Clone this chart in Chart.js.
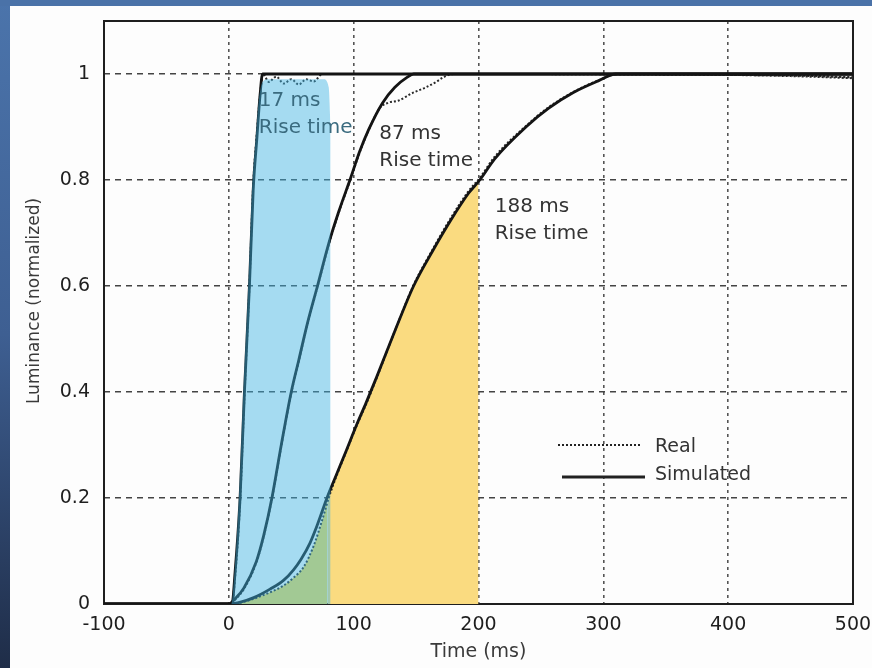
<!DOCTYPE html>
<html><head><meta charset="utf-8">
<script src="https://cdn.jsdelivr.net/npm/chart.js@4.4.1/dist/chart.umd.min.js"></script>
<style>html,body{margin:0;padding:0;background:#4a72a8;overflow:hidden}canvas{display:block}</style>
</head><body><canvas id="c" width="872" height="668"></canvas>
<script>
// ---- tick labels / titles ----
const xTicks = [-100, 0, 100, 200, 300, 400, 500];
const yTicks = [0, 0.2, 0.4, 0.6, 0.8, 1];
const xTitle = 'Time (ms)';
const yTitle = 'Luminance (normalized)';
const legendLabels = ['Real', 'Simulated'];
const riseLabels = [['17 ms', 'Rise time'], ['87 ms', 'Rise time'], ['188 ms', 'Rise time']];

// ---- curve 1 (17 ms) ----
const sim1T = [-100, 0, 2.5, 5, 9, 12.5, 16.5, 19.5, 22.5, 25, 27, 500];
const sim1V = [0, 0, 0, 0.06, 0.2, 0.4, 0.6, 0.78, 0.88, 0.96, 1, 1];
const real1T = [-100, 0, 2.5, 5, 9, 12.5, 16.5, 19.5, 22.5, 25, 27.5, 32, 38, 44, 50, 56, 62, 68, 75, 450, 500];
const real1V = [0, 0, 0, 0.05, 0.19, 0.39, 0.6, 0.79, 0.89, 0.96, 1, 0.985, 0.995, 0.982, 0.99, 0.98, 0.99, 0.986, 1, 0.998, 0.993];

// ---- curve 2 (87 ms) ----
const sim2T = [-100, 0, 5, 12, 22, 28, 34.5, 42, 50, 56, 63, 71, 80, 88, 97, 105, 112, 123, 133, 143, 148, 500];
const sim2V = [0, 0, 0.01, 0.03, 0.08, 0.13, 0.2, 0.3, 0.4, 0.46, 0.53, 0.6, 0.68, 0.74, 0.8, 0.855, 0.895, 0.945, 0.975, 0.994, 1, 1];
const real2T = [-100, 0, 5, 12, 22, 28, 34.5, 42, 50, 56, 63, 71, 80, 88, 97, 105, 112, 121, 128, 136, 147, 158, 166, 172, 180, 450, 500];
const real2V = [0, 0, 0.008, 0.028, 0.078, 0.128, 0.198, 0.298, 0.398, 0.458, 0.528, 0.598, 0.678, 0.738, 0.798, 0.853, 0.894, 0.936, 0.946, 0.95, 0.964, 0.975, 0.985, 0.994, 1, 0.997, 0.994];

// ---- curve 3 (188 ms) ----
const sim3T = [-100, 0, 10, 20, 33, 44, 52, 58, 65, 71, 78.6, 86, 93.3, 102.7, 110, 118.7, 133, 148, 163, 178, 192, 201, 213, 238, 256, 276, 296, 310, 500];
const sim3V = [0, 0, 0.004, 0.012, 0.028, 0.045, 0.065, 0.085, 0.115, 0.15, 0.2, 0.243, 0.285, 0.34, 0.38, 0.43, 0.515, 0.6, 0.665, 0.725, 0.775, 0.8, 0.84, 0.9, 0.935, 0.965, 0.987, 1, 1];
const real3T = [-100, 0, 10, 20, 33, 44, 52, 60, 68, 75, 80, 86, 93.3, 102.7, 110, 118.7, 133, 148, 163, 178, 192, 201, 213, 238, 256, 276, 296, 312, 450, 500];
const real3V = [0, 0, 0.003, 0.01, 0.022, 0.035, 0.05, 0.07, 0.11, 0.16, 0.2, 0.24, 0.283, 0.338, 0.377, 0.428, 0.515, 0.602, 0.668, 0.729, 0.779, 0.804, 0.844, 0.902, 0.937, 0.966, 0.988, 1, 0.996, 0.992];

// ---- highlighted areas ----
const blueT = [-1, 2, 4.5, 8, 11.5, 15.5, 18.5, 21.5, 24, 27, 32, 76, 80, 81.5];
const blueV = [0, 0, 0.06, 0.2, 0.4, 0.6, 0.78, 0.88, 0.95, 0.985, 0.99, 0.99, 0.975, 0.9];
const greenT = [5, 20, 33, 44, 52, 60, 68, 75, 79];
const greenV = [0, 0.01, 0.022, 0.035, 0.05, 0.07, 0.11, 0.16, 0.2];
const yellowT = [79, 86, 93.3, 102.7, 110, 118.7, 133, 148, 163, 178, 192, 200];
const yellowV = [0.2, 0.24, 0.283, 0.338, 0.377, 0.428, 0.515, 0.6, 0.665, 0.725, 0.775, 0.795];

const pts = (T, V) => T.map((t, i) => ({x: t, y: V[i]}));
const FONT = 'DejaVu Sans';

const simStyle = {borderColor: '#141414', borderWidth: 2.8, pointRadius: 0, fill: false, cubicInterpolationMode: 'monotone', order: 2};
const realStyle = {borderColor: '#2a2a2a', borderWidth: 2, borderDash: [2, 2], pointRadius: 0, fill: false, cubicInterpolationMode: 'monotone', order: 3};
const areaStyle = {borderWidth: 0, pointRadius: 0, fill: 'origin', cubicInterpolationMode: 'monotone'};

const bgPlugin = {
  id: 'bg',
  beforeDraw(chart) {
    const ctx = chart.ctx, W = chart.width, H = chart.height;
    ctx.save();
    const g = ctx.createLinearGradient(0, 0, 0, H);
    g.addColorStop(0, '#4b74ab');
    g.addColorStop(0.5, '#3e5f92');
    g.addColorStop(1, '#1f2d48');
    ctx.fillStyle = g;
    ctx.fillRect(0, 0, W, H);
    ctx.fillStyle = '#4a72a8';
    ctx.fillRect(0, 0, W, 6);
    ctx.fillStyle = '#fdfdfd';
    ctx.fillRect(10, 6, W - 10, H - 6);
    ctx.restore();
  },
  beforeDatasetsDraw(chart) {
    const {ctx, chartArea: a} = chart;
    ctx.save();
    ctx.strokeStyle = '#1e1e1e';
    ctx.lineWidth = 2;
    ctx.strokeRect(a.left, a.top, a.right - a.left, a.bottom - a.top);
    ctx.restore();
  },
  afterDraw(chart) {
    const {ctx, chartArea: a, scales: {x, y}} = chart;
    ctx.save();
    // axis titles
    ctx.fillStyle = '#3a3a3a';
    ctx.font = '19px "' + FONT + '"';
    ctx.textAlign = 'center';
    ctx.textBaseline = 'middle';
    ctx.fillText(xTitle, (a.left + a.right) / 2, 652);
    ctx.save();
    ctx.translate(35, 301);
    ctx.rotate(-Math.PI / 2);
    ctx.font = '17px "' + FONT + '"';
    ctx.fillText(yTitle, 0, 0);
    ctx.restore();
    // rise-time annotations
    ctx.font = '20px "' + FONT + '"';
    ctx.textAlign = 'left';
    const anchors = [[24, 0.95, '#3a6b7f'], [120.5, 0.887, '#333'], [213, 0.75, '#333']];
    riseLabels.forEach((lines, i) => {
      const [t, v, col] = anchors[i];
      ctx.fillStyle = col;
      const px = x.getPixelForValue(t), py = y.getPixelForValue(v);
      lines.forEach((s, k) => ctx.fillText(s, px, py + k * 27));
    });
    // legend
    const lx = a.left + 454, ly = a.top + 424;
    ctx.strokeStyle = '#222';
    ctx.lineWidth = 2;
    ctx.setLineDash([2, 2]);
    ctx.beginPath(); ctx.moveTo(lx, ly); ctx.lineTo(lx + 82, ly); ctx.stroke();
    ctx.setLineDash([]);
    ctx.lineWidth = 2.8;
    ctx.beginPath(); ctx.moveTo(lx + 4, ly + 32); ctx.lineTo(lx + 87, ly + 32); ctx.stroke();
    ctx.fillStyle = '#333';
    ctx.font = '19px "' + FONT + '"';
    ctx.fillText(legendLabels[0], lx + 97, ly + 2);
    ctx.fillText(legendLabels[1], lx + 97, ly + 30);
    ctx.restore();
  }
};

new Chart(document.getElementById('c'), {
  type: 'line',
  data: {
    datasets: [
      Object.assign({label: 'blue', data: pts(blueT, blueV), backgroundColor: 'rgba(60,178,226,0.46)', order: 0}, areaStyle),
      Object.assign({label: 'Simulated 17', data: pts(sim1T, sim1V)}, simStyle),
      Object.assign({label: 'Simulated 87', data: pts(sim2T, sim2V)}, simStyle),
      Object.assign({label: 'Simulated 188', data: pts(sim3T, sim3V)}, simStyle),
      Object.assign({label: 'Real 17', data: pts(real1T, real1V)}, realStyle),
      Object.assign({label: 'Real 87', data: pts(real2T, real2V)}, realStyle),
      Object.assign({label: 'Real 188', data: pts(real3T, real3V)}, realStyle),
      Object.assign({label: 'green', data: pts(greenT, greenV), backgroundColor: 'rgb(248,220,82)', order: 10}, areaStyle),
      Object.assign({label: 'yellow', data: pts(yellowT, yellowV), backgroundColor: 'rgb(250,219,128)', order: 10}, areaStyle)
    ]
  },
  options: {
    responsive: false,
    animation: false,
    layout: {padding: {left: 0, top: 21, right: 19, bottom: 0}},
    plugins: {legend: {display: false}, tooltip: {enabled: false}},
    scales: {
      x: {
        type: 'linear', min: -100, max: 500,
        afterBuildTicks: s => { s.ticks = xTicks.map(v => ({value: v})); },
        afterFit: s => { s.height = 64; s.paddingLeft = 0; s.paddingRight = 0; },
        ticks: {color: '#1e1e1e', font: {family: FONT, size: 19}, padding: 10, maxRotation: 0, callback: v => String(v)},
        grid: {drawTicks: false, lineWidth: 1.6,
          color: c => (c.tick && (c.tick.value === -100 || c.tick.value === 500)) ? 'rgba(0,0,0,0)' : '#555'},
        border: {display: false, dash: [3, 4]}
      },
      y: {
        type: 'linear', min: 0, max: 1.1,
        afterBuildTicks: s => { s.ticks = yTicks.map(v => ({value: v})); },
        afterFit: s => { s.width = 104; s.paddingTop = 0; s.paddingBottom = 0; },
        ticks: {color: '#1e1e1e', font: {family: FONT, size: 19}, padding: 14, callback: v => String(v)},
        grid: {drawTicks: false, lineWidth: 1.5,
          color: c => (c.tick && c.tick.value === 0) ? 'rgba(0,0,0,0)' : '#444'},
        border: {display: false, dash: [6, 5]}
      }
    }
  },
  plugins: [bgPlugin]
});
</script></body></html>
